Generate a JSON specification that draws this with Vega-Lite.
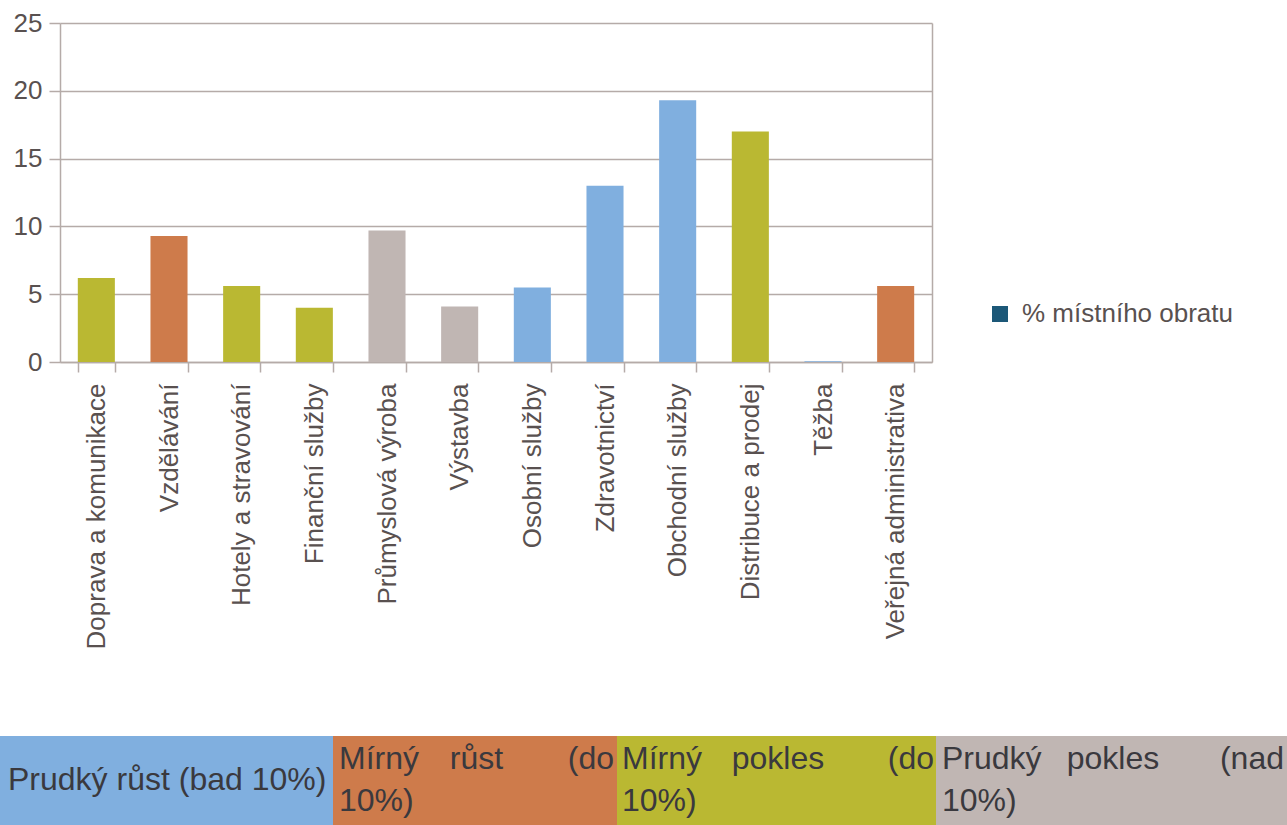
{
  "$schema": "https://vega.github.io/schema/vega-lite/v6.json",
  "background": "white",
  "padding": {"left": -13, "top": 10, "right": 0, "bottom": 0},
  "spacing": 87,
  "config": {
    "font": "Liberation Sans",
    "view": {"stroke": null},
    "axis": {
      "labelFont": "Liberation Sans",
      "labelFontSize": 26,
      "labelColor": "#595150",
      "labelLimit": 0,
      "domainColor": "#B5ABA8",
      "tickColor": "#B5ABA8",
      "gridColor": "#B5ABA8",
      "domainWidth": 1.5,
      "tickWidth": 1.5,
      "gridWidth": 1.5
    }
  },
  "datasets": {
    "obrat": [
      {"sektor": "Doprava a komunikace", "hodnota": 6.2, "vyvoj": "Mírný pokles", "rada": "% místního obratu"},
      {"sektor": "Vzdělávání", "hodnota": 9.3, "vyvoj": "Mírný růst", "rada": "% místního obratu"},
      {"sektor": "Hotely a stravování", "hodnota": 5.6, "vyvoj": "Mírný pokles", "rada": "% místního obratu"},
      {"sektor": "Finanční služby", "hodnota": 4.0, "vyvoj": "Mírný pokles", "rada": "% místního obratu"},
      {"sektor": "Průmyslová výroba", "hodnota": 9.7, "vyvoj": "Prudký pokles", "rada": "% místního obratu"},
      {"sektor": "Výstavba", "hodnota": 4.1, "vyvoj": "Prudký pokles", "rada": "% místního obratu"},
      {"sektor": "Osobní služby", "hodnota": 5.5, "vyvoj": "Prudký růst", "rada": "% místního obratu"},
      {"sektor": "Zdravotnictví", "hodnota": 13.0, "vyvoj": "Prudký růst", "rada": "% místního obratu"},
      {"sektor": "Obchodní služby", "hodnota": 19.3, "vyvoj": "Prudký růst", "rada": "% místního obratu"},
      {"sektor": "Distribuce a prodej", "hodnota": 17.0, "vyvoj": "Mírný pokles", "rada": "% místního obratu"},
      {"sektor": "Těžba", "hodnota": 0.05, "vyvoj": "Prudký růst", "rada": "% místního obratu"},
      {"sektor": "Veřejná administrativa", "hodnota": 5.6, "vyvoj": "Mírný růst", "rada": "% místního obratu"}
    ],
    "klic": [
      {"vyvoj": "Prudký růst", "slovo": "Prudký růst (bad 10%)", "pozice": "l", "radek": 1.5},
      {"vyvoj": "Mírný růst", "slovo": "Mírný", "pozice": "l", "radek": 1},
      {"vyvoj": "Mírný růst", "slovo": "růst", "pozice": "m", "radek": 1},
      {"vyvoj": "Mírný růst", "slovo": "(do", "pozice": "r", "radek": 1},
      {"vyvoj": "Mírný růst", "slovo": "10%)", "pozice": "l", "radek": 2},
      {"vyvoj": "Mírný pokles", "slovo": "Mírný", "pozice": "l", "radek": 1},
      {"vyvoj": "Mírný pokles", "slovo": "pokles", "pozice": "m", "radek": 1},
      {"vyvoj": "Mírný pokles", "slovo": "(do", "pozice": "r", "radek": 1},
      {"vyvoj": "Mírný pokles", "slovo": "10%)", "pozice": "l", "radek": 2},
      {"vyvoj": "Prudký pokles", "slovo": "Prudký", "pozice": "l", "radek": 1},
      {"vyvoj": "Prudký pokles", "slovo": "pokles", "pozice": "m", "radek": 1},
      {"vyvoj": "Prudký pokles", "slovo": "(nad", "pozice": "r", "radek": 1},
      {"vyvoj": "Prudký pokles", "slovo": "10%)", "pozice": "l", "radek": 2}
    ]
  },
  "vconcat": [
    {
      "width": 932,
      "height": 339,
      "data": {"name": "obrat"},
      "encoding": {
        "x": {
          "field": "sektor",
          "type": "nominal",
          "sort": null,
          "scale": {"paddingInner": 0.49, "paddingOuter": 0.245, "range": [60, 932]},
          "axis": {
            "title": null,
            "labelAngle": -90,
            "tickSize": 10,
            "tickBand": "extent",
            "labelPadding": 11,
            "grid": false
          }
        }
      },
      "resolve": {"axis": {"y": "independent"}},
      "layer": [
        {
          "mark": {"type": "bar"},
          "encoding": {
            "y": {
              "field": "hodnota",
              "type": "quantitative",
              "scale": {"domain": [0, 25], "nice": false},
              "axis": {
                "title": null,
                "values": [0, 5, 10, 15, 20, 25],
                "tickSize": 11,
                "labelPadding": 7,
                "offset": -60,
                "minExtent": 0,
                "grid": true
              }
            },
            "fill": {
              "field": "vyvoj",
              "type": "nominal",
              "scale": {
                "domain": ["Prudký růst", "Mírný růst", "Mírný pokles", "Prudký pokles"],
                "range": ["#80AFDF", "#CE7B4B", "#BAB832", "#C0B6B3"]
              },
              "legend": null
            }
          }
        },
        {
          "mark": {"type": "point", "opacity": 0, "filled": true},
          "encoding": {
            "y": {
              "field": "hodnota",
              "type": "quantitative",
              "axis": {
                "title": null,
                "orient": "right",
                "labels": false,
                "ticks": false,
                "grid": false,
                "domain": true,
                "minExtent": 0
              }
            },
            "color": {
              "field": "rada",
              "type": "nominal",
              "scale": {"range": ["#1C5878"]},
              "legend": {
                "title": null,
                "orient": "none",
                "legendX": 987,
                "legendY": 278,
                "symbolType": "square",
                "symbolSize": 256,
                "symbolOpacity": 1,
                "symbolStrokeWidth": 0,
                "labelFontSize": 26,
                "labelColor": "#595150",
                "labelFont": "Liberation Sans",
                "labelLimit": 0,
                "labelOffset": 9
              }
            }
          }
        }
      ]
    },
    {
      "spacing": 0,
      "resolve": {"scale": {"x": "independent", "y": "independent", "fill": "independent"}},
      "hconcat": [
        {
          "width": 333,
          "height": 89,
          "data": {"name": "klic"},
          "transform": [{"filter": "datum.vyvoj === 'Prudký růst'"}],
          "layer": [
            {
              "mark": {"type": "rect"},
              "encoding": {
                "fill": {"field": "vyvoj", "type": "nominal", "scale": {"domain": ["Prudký růst"], "range": ["#80AFDF"]}, "legend": null}
              }
            },
            {
              "mark": {"type": "text", "fontSize": 32, "color": "#3A393E", "baseline": "alphabetic", "align": {"expr": "datum.pozice === 'l' ? 'left' : datum.pozice === 'r' ? 'right' : 'center'"}},
              "encoding": {
                "x": {"field": "pozice", "type": "ordinal", "scale": {"type": "point", "domain": ["l", "m", "r"], "range": [8, 330], "padding": 0}, "axis": null},
                "y": {"field": "radek", "type": "quantitative", "scale": {"domain": [0.2143, 2.3333], "reverse": true, "nice": false, "zero": false}, "axis": null},
                "text": {"field": "slovo"}
              }
            }
          ]
        },
        {
          "width": 284,
          "height": 89,
          "data": {"name": "klic"},
          "transform": [{"filter": "datum.vyvoj === 'Mírný růst'"}],
          "layer": [
            {
              "mark": {"type": "rect"},
              "encoding": {
                "fill": {"field": "vyvoj", "type": "nominal", "scale": {"domain": ["Mírný růst"], "range": ["#CE7B4B"]}, "legend": null}
              }
            },
            {
              "mark": {"type": "text", "fontSize": 32, "color": "#3A393E", "baseline": "alphabetic", "align": {"expr": "datum.pozice === 'l' ? 'left' : datum.pozice === 'r' ? 'right' : 'center'"}},
              "encoding": {
                "x": {"field": "pozice", "type": "ordinal", "scale": {"type": "point", "domain": ["l", "m", "r"], "range": [6, 281], "padding": 0}, "axis": null},
                "y": {"field": "radek", "type": "quantitative", "scale": {"domain": [0.2143, 2.3333], "reverse": true, "nice": false, "zero": false}, "axis": null},
                "text": {"field": "slovo"}
              }
            }
          ]
        },
        {
          "width": 319,
          "height": 89,
          "data": {"name": "klic"},
          "transform": [{"filter": "datum.vyvoj === 'Mírný pokles'"}],
          "layer": [
            {
              "mark": {"type": "rect"},
              "encoding": {
                "fill": {"field": "vyvoj", "type": "nominal", "scale": {"domain": ["Mírný pokles"], "range": ["#BAB832"]}, "legend": null}
              }
            },
            {
              "mark": {"type": "text", "fontSize": 32, "color": "#3A393E", "baseline": "alphabetic", "align": {"expr": "datum.pozice === 'l' ? 'left' : datum.pozice === 'r' ? 'right' : 'center'"}},
              "encoding": {
                "x": {"field": "pozice", "type": "ordinal", "scale": {"type": "point", "domain": ["l", "m", "r"], "range": [5, 317], "padding": 0}, "axis": null},
                "y": {"field": "radek", "type": "quantitative", "scale": {"domain": [0.2143, 2.3333], "reverse": true, "nice": false, "zero": false}, "axis": null},
                "text": {"field": "slovo"}
              }
            }
          ]
        },
        {
          "width": 351,
          "height": 89,
          "data": {"name": "klic"},
          "transform": [{"filter": "datum.vyvoj === 'Prudký pokles'"}],
          "layer": [
            {
              "mark": {"type": "rect"},
              "encoding": {
                "fill": {"field": "vyvoj", "type": "nominal", "scale": {"domain": ["Prudký pokles"], "range": ["#C0B6B3"]}, "legend": null}
              }
            },
            {
              "mark": {"type": "text", "fontSize": 32, "color": "#3A393E", "baseline": "alphabetic", "align": {"expr": "datum.pozice === 'l' ? 'left' : datum.pozice === 'r' ? 'right' : 'center'"}},
              "encoding": {
                "x": {"field": "pozice", "type": "ordinal", "scale": {"type": "point", "domain": ["l", "m", "r"], "range": [6, 348], "padding": 0}, "axis": null},
                "y": {"field": "radek", "type": "quantitative", "scale": {"domain": [0.2143, 2.3333], "reverse": true, "nice": false, "zero": false}, "axis": null},
                "text": {"field": "slovo"}
              }
            }
          ]
        }
      ]
    }
  ]
}
